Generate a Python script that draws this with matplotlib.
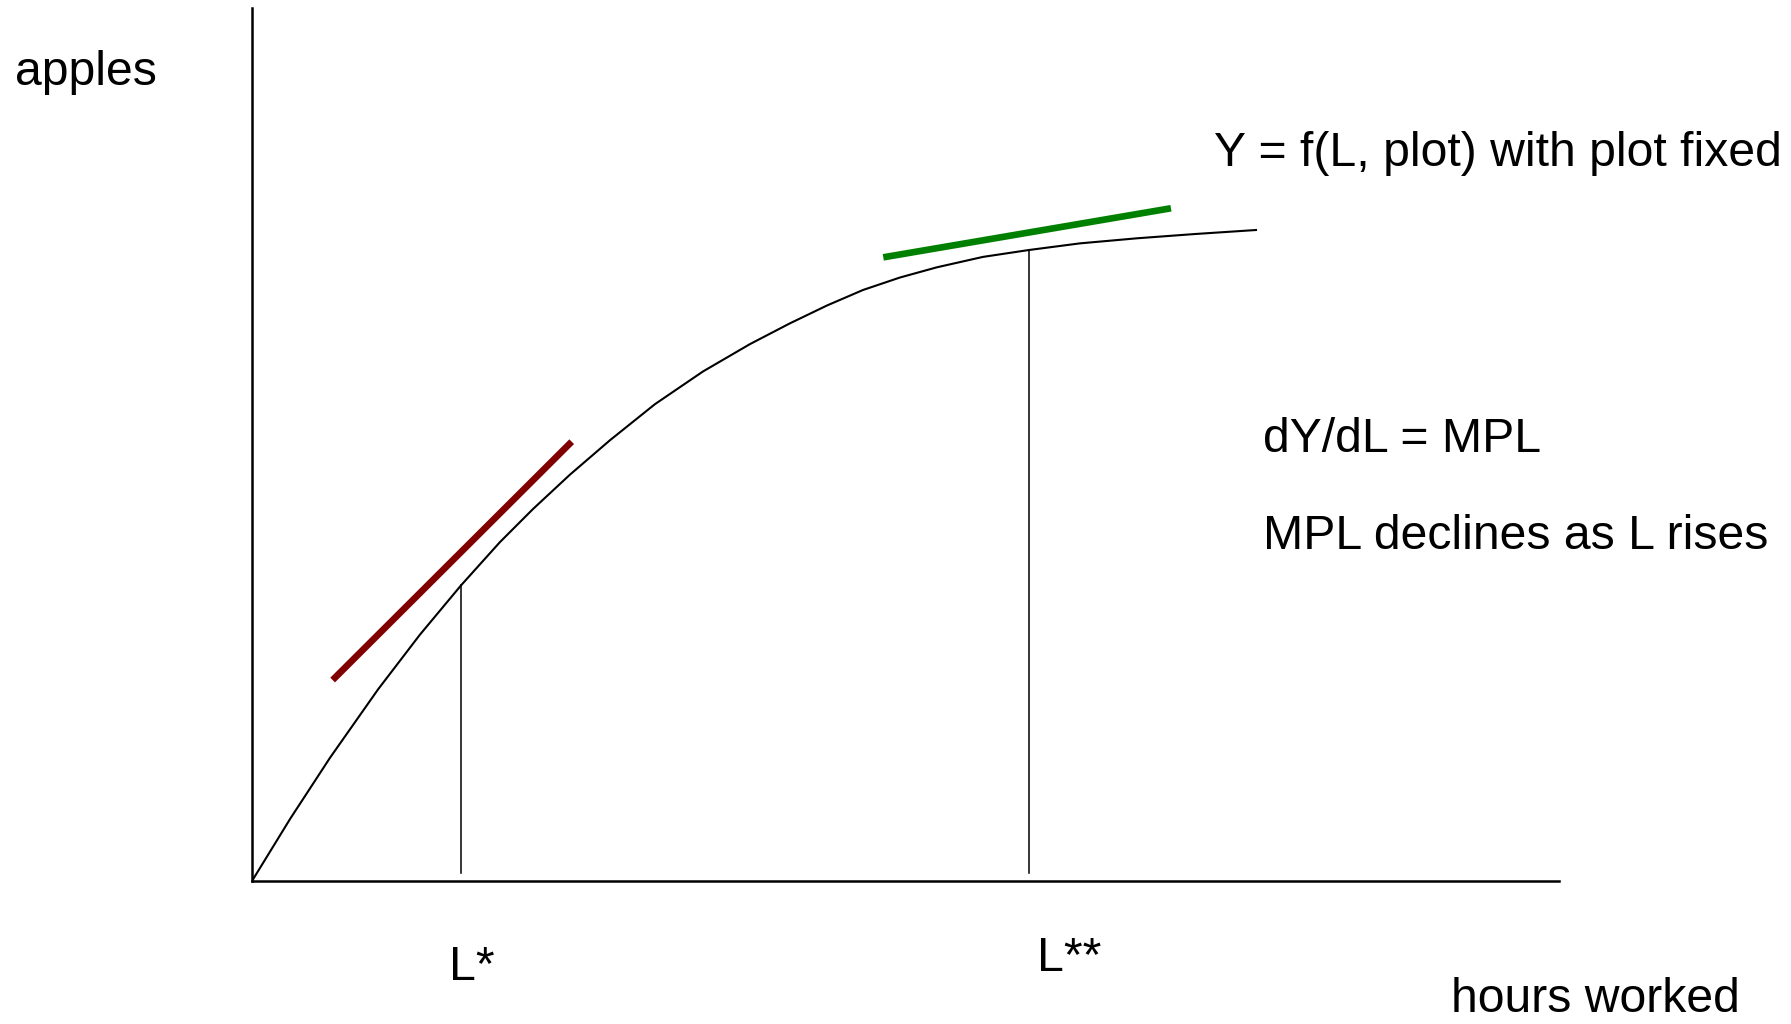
import matplotlib
matplotlib.use("Agg")
import matplotlib.pyplot as plt

plt.rcParams['font.family'] = ['Liberation Sans', 'DejaVu Sans']

# production function Y = f(L) (both axis lengths scaled to 100)
hours = [0, 2.91, 5.97, 9.64, 12.85, 15.99, 18.97, 21.50, 24.33, 27.39, 30.83, 34.51,
         38.10, 41.16, 43.99, 46.75, 49.58, 52.41, 55.93, 59.45, 63.35, 67.71, 72.15, 76.82]
apples = [0, 7.10, 14.12, 21.94, 28.22, 33.86, 38.82, 42.61, 46.55, 50.49, 54.62, 58.37,
          61.50, 63.88, 65.92, 67.70, 69.13, 70.30, 71.49, 72.28, 73.04, 73.62, 74.11, 74.57]

# tangent segments
tan_low_x = [6.17, 24.46]
tan_low_y = [23.02, 50.32]
tan_high_x = [48.30, 70.31]
tan_high_y = [71.44, 77.06]

# marked labour levels L* and L**
marks_x = [15.99, 59.45]
marks_top = [33.86, 72.28]
marks_bottom = 0.92

W, H = 1791, 1024
fig = plt.figure(figsize=(W / 100, H / 100), dpi=100)
ax = fig.add_axes([252 / W, (H - 881) / H, (1559 - 252) / W, (881 - 8) / H])
ax.set_xlim(0, 100)
ax.set_ylim(0, 100)

ax.plot(hours, apples, color='black', lw=1.5, solid_joinstyle='round')
ax.plot(tan_low_x, tan_low_y, color='#800000', lw=4.8, solid_capstyle='butt')
ax.plot(tan_high_x, tan_high_y, color='#008000', lw=4.8, solid_capstyle='butt')
for x, top in zip(marks_x, marks_top):
    ax.plot([x, x], [marks_bottom, top], color='black', lw=1.1)

for side in ['top', 'right']:
    ax.spines[side].set_visible(False)
for side in ['left', 'bottom']:
    ax.spines[side].set_linewidth(1.8)
ax.set_xticks([])
ax.set_yticks([])
ax.patch.set_alpha(0)


def label(txt, x, y):
    fig.text(x / W, 1 - y / H, txt, fontsize=34.7, va='baseline', ha='left')


label("apples", 15, 85)
label("Y = f(L, plot) with plot fixed", 1214, 166)
label("dY/dL = MPL", 1263, 452)
label("MPL declines as L rises", 1263, 549)
label("L*", 449, 980)
label("L**", 1037, 971)
label("hours worked", 1451, 1012)

fig.savefig("out.png", dpi=100)
